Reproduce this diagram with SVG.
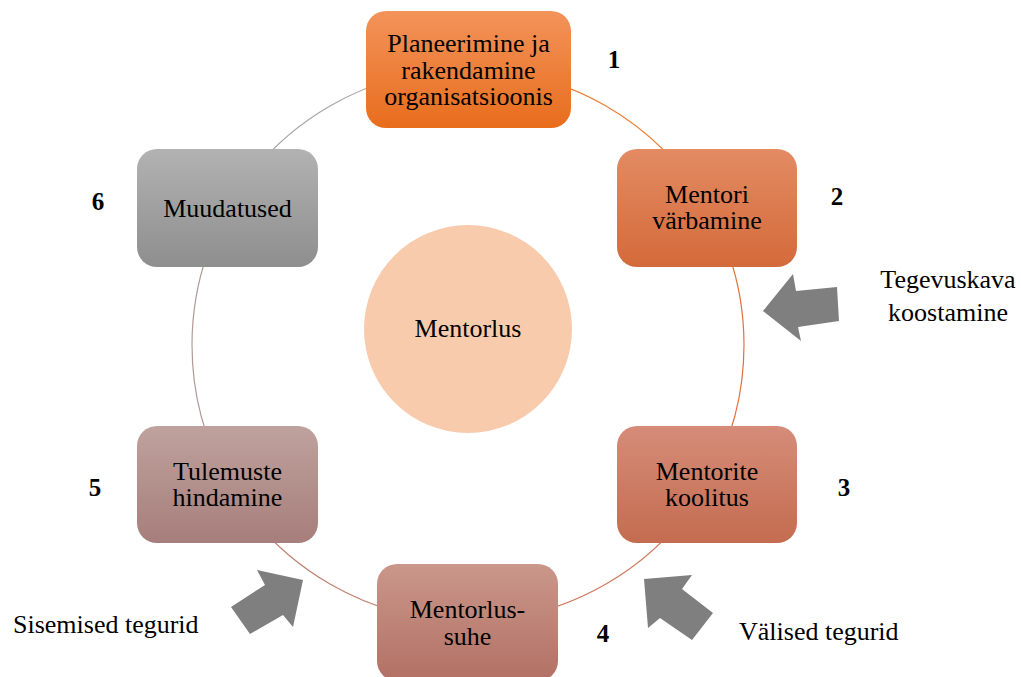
<svg xmlns="http://www.w3.org/2000/svg" width="1021" height="677" viewBox="0 0 1021 677">
<style>
.t{font-family:"Liberation Serif","Times New Roman",serif;font-size:26px;fill:#000;text-anchor:middle}
.l{font-family:"Liberation Serif","Times New Roman",serif;font-size:26px;fill:#000}
.n{font-family:"Liberation Serif","Times New Roman",serif;font-size:25px;font-weight:bold;fill:#000;text-anchor:middle}
.arc{fill:none;stroke-width:1.2}
.ba{fill:#7F7F7F}
</style>
<defs>
<linearGradient id="g1" x1="0" y1="0" x2="0" y2="1"><stop offset="0" stop-color="#F3935A"/><stop offset="1" stop-color="#E86D1D"/></linearGradient>
<linearGradient id="g2" x1="0" y1="0" x2="0" y2="1"><stop offset="0" stop-color="#E38B63"/><stop offset="1" stop-color="#D46A3A"/></linearGradient>
<linearGradient id="g3" x1="0" y1="0" x2="0" y2="1"><stop offset="0" stop-color="#D58C78"/><stop offset="1" stop-color="#C46C50"/></linearGradient>
<linearGradient id="g4" x1="0" y1="0" x2="0" y2="1"><stop offset="0" stop-color="#CA978B"/><stop offset="1" stop-color="#B37064"/></linearGradient>
<linearGradient id="g5" x1="0" y1="0" x2="0" y2="1"><stop offset="0" stop-color="#BFA29D"/><stop offset="1" stop-color="#A67E7B"/></linearGradient>
<linearGradient id="g6" x1="0" y1="0" x2="0" y2="1"><stop offset="0" stop-color="#B2B2B2"/><stop offset="1" stop-color="#8E8E8E"/></linearGradient>
</defs>
<g id="connectors">
<path class="arc" stroke="#ED7D31" d="M468,69 A276,276 0 0 1 707.02,207"/>
<path class="arc" stroke="#E0703C" d="M707.02,207 A276,276 0 0 1 707.02,483"/>
<path class="arc" stroke="#D0785C" d="M707.02,483 A276,276 0 0 1 468,621"/>
<path class="arc" stroke="#C08272" d="M468,621 A276,276 0 0 1 228.98,483"/>
<path class="arc" stroke="#B09A98" d="M228.98,483 A276,276 0 0 1 228.98,207"/>
<path class="arc" stroke="#A6A6A6" d="M228.98,207 A276,276 0 0 1 468,69"/>
</g>
<g id="center">
<circle cx="468" cy="329" r="104" fill="#F8CBAD"/>
<text class="t" x="468" y="337">Mentorlus</text>
</g>
<g id="node1">
<rect x="366" y="11" width="205" height="117" rx="20" fill="url(#g1)"/>
<text class="t" x="468.5" y="52">Planeerimine ja</text>
<text class="t" x="468.5" y="79">rakendamine</text>
<text class="t" x="468.5" y="105">organisatsioonis</text>
</g>
<g id="node2">
<rect x="617" y="149" width="180" height="118" rx="20" fill="url(#g2)"/>
<text class="t" x="707" y="203">Mentori</text>
<text class="t" x="707" y="229">värbamine</text>
</g>
<g id="node3">
<rect x="617" y="426" width="180" height="117" rx="20" fill="url(#g3)"/>
<text class="t" x="707" y="480">Mentorite</text>
<text class="t" x="707" y="506">koolitus</text>
</g>
<g id="node4">
<rect x="377" y="564" width="181" height="117" rx="20" fill="url(#g4)"/>
<text class="t" x="467.5" y="618">Mentorlus-</text>
<text class="t" x="467.5" y="645">suhe</text>
</g>
<g id="node5">
<rect x="137" y="426" width="181" height="117" rx="20" fill="url(#g5)"/>
<text class="t" x="227.5" y="480">Tulemuste</text>
<text class="t" x="227.5" y="506">hindamine</text>
</g>
<g id="node6">
<rect x="137" y="149" width="181" height="118" rx="20" fill="url(#g6)"/>
<text class="t" x="227.5" y="217">Muudatused</text>
</g>
<g id="numbers">
<text class="n" x="614" y="68">1</text>
<text class="n" x="837" y="205">2</text>
<text class="n" x="844" y="496">3</text>
<text class="n" x="603" y="642">4</text>
<text class="n" x="95" y="496">5</text>
<text class="n" x="98" y="210">6</text>
</g>
<g id="arrows">
<polygon class="ba" points="763,311 793,274 796,291 837,287 839,321 798,327 801,341"/>
<polygon class="ba" points="303,580 257,570 265,585 231,607 250,634 283,615 293,627"/>
<polygon class="ba" points="644,579 692,575 682,589 713,613 692,640 660,618 648,628"/>
</g>
<g id="labels">
<text class="t" x="948" y="288">Tegevuskava</text>
<text class="t" x="948" y="321">koostamine</text>
<text class="l" x="13" y="633">Sisemised tegurid</text>
<text class="l" x="739" y="640">Välised tegurid</text>
</g>
</svg>
